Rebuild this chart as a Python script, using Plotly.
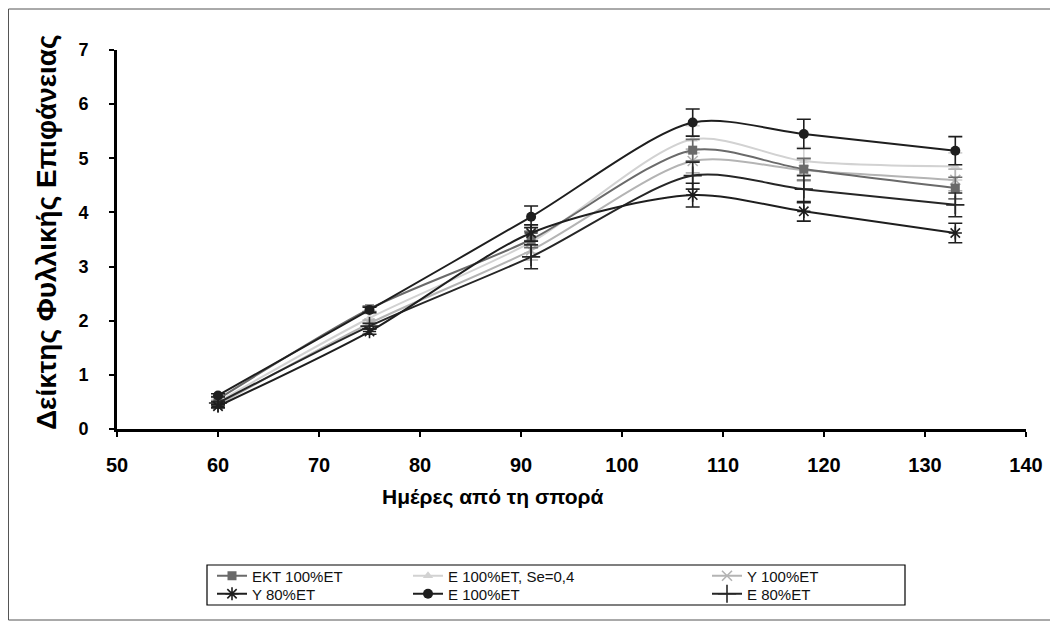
import plotly.graph_objects as go

days = [60, 75, 91, 107, 118, 133]

ekt_100 = [0.55, 2.22, 3.50, 5.15, 4.80, 4.45]
ekt_100_err = [0.05, 0.05, 0.15, 0.20, 0.20, 0.20]

e_100_se = [0.50, 2.05, 3.45, 5.35, 4.95, 4.85]
e_100_se_err = [0.05, 0.08, 0.20, 0.25, 0.25, 0.25]

y_100 = [0.45, 1.95, 3.30, 4.95, 4.78, 4.60]
y_100_err = [0.04, 0.06, 0.18, 0.22, 0.20, 0.20]

y_80 = [0.42, 1.80, 3.62, 4.32, 4.02, 3.62]
y_80_err = [0.03, 0.05, 0.15, 0.22, 0.18, 0.18]

e_100 = [0.62, 2.20, 3.92, 5.66, 5.45, 5.14]
e_100_err = [0.03, 0.05, 0.20, 0.25, 0.27, 0.26]

e_80 = [0.48, 1.90, 3.18, 4.68, 4.43, 4.14]
e_80_err = [0.03, 0.05, 0.22, 0.25, 0.25, 0.22]

x_ticks = [50, 60, 70, 80, 90, 100, 110, 120, 130, 140]
y_ticks = [0, 1, 2, 3, 4, 5, 6, 7]

FONT = "Liberation Sans, Arial, sans-serif"

# the page body adds an 8px margin, so the figure is 8px smaller and shifted
OFF = 8
W, H = 1058 - OFF, 626 - OFF
PL, PT, PW, PH = 117, 50, 909, 379          # plot area in window pixels
L, T = PL - OFF, PT - OFF
R, B = W - L - PW, H - T - PH


def px(xp):
    return (xp - PL) / PW


def py(yp):
    return (PT + PH - yp) / PH


# name, values, errors, symbol, size, color, legend id, legend text x, legend row y
series = [
    ("E 100%ET, Se=0,4", e_100_se, e_100_se_err, "triangle-up", 9, "#d2d2d2", "legend2", 448, 576),
    ("Y 100%ET", y_100, y_100_err, "x-thin-open", 10, "#b4b4b4", "legend3", 747, 576),
    ("EKT 100%ET", ekt_100, ekt_100_err, "square", 9, "#6a6a6a", "legend", 252, 576),
    ("E 80%ET", e_80, e_80_err, "cross-thin-open", 13, "#262626", "legend6", 747, 594),
    ("Y 80%ET", y_80, y_80_err, "asterisk-open", 11, "#1e1e1e", "legend4", 252, 594),
    ("E 100%ET", e_100, e_100_err, "circle", 10, "#1e1e1e", "legend5", 448, 594),
]

fig = go.Figure()
legends = {}
for name, vals, errs, sym, size, col, leg, tx, ty in series:
    open_sym = sym.endswith("open")
    fig.add_trace(go.Scatter(
        x=days, y=vals, name=name, mode="lines+markers",
        line=dict(color=col, width=2, shape="spline", smoothing=0.8),
        marker=dict(symbol=sym, size=size, color=col,
                    line=dict(color=col, width=1.6 if open_sym else 0)),
        error_y=dict(type="data", array=errs, visible=True, color=col,
                     thickness=1.6, width=7),
        legend=leg,
    ))
    legends[leg] = dict(
        x=px(tx - 40), y=py(ty), xanchor="left", yanchor="middle",
        orientation="v", font=dict(family=FONT, size=15, color="#111"),
        bgcolor="rgba(0,0,0,0)", borderwidth=0, itemwidth=30,
    )

fig.update_layout(
    width=W, height=H,
    margin=dict(l=L, r=R, t=T, b=B, pad=0),
    paper_bgcolor="white", plot_bgcolor="white",
    showlegend=True,
    **legends,
    xaxis=dict(
        range=[50, 140], tickvals=x_ticks,
        ticktext=["<b>%d</b>" % v for v in x_ticks],
        showgrid=False, zeroline=False, showline=True, linecolor="black",
        linewidth=3, ticks="outside", ticklen=5, tickwidth=2, tickcolor="black",
        tickfont=dict(family=FONT, size=20, color="black"),
        ticklabelstandoff=11,
    ),
    yaxis=dict(
        range=[0, 7], tickvals=y_ticks,
        ticktext=["<b>%d</b>" % v for v in y_ticks],
        showgrid=False, zeroline=False, showline=True, linecolor="black",
        linewidth=3, ticks="outside", ticklen=5, tickwidth=2, tickcolor="black",
        tickfont=dict(family=FONT, size=18, color="black"),
        ticklabelstandoff=17,
    ),
    annotations=[
        dict(text="<b>Ημέρες από τη σπορά</b>", xref="paper", yref="paper",
             x=px(493), y=py(497), xanchor="center", yanchor="middle",
             showarrow=False, font=dict(family=FONT, size=21, color="black")),
        dict(text="<b>Δείκτης Φυλλικής Επιφάνειας</b>", xref="paper", yref="paper",
             x=px(46), y=py(232), xanchor="center", yanchor="middle",
             textangle=-90, showarrow=False,
             font=dict(family=FONT, size=28, color="black")),
    ],
    shapes=[
        dict(type="rect", xref="paper", yref="paper",
             x0=px(8.5), x1=px(1055), y0=py(9), y1=py(620),
             line=dict(color="#555", width=1), layer="below"),
        dict(type="rect", xref="paper", yref="paper",
             x0=px(207), x1=px(905), y0=py(565), y1=py(605),
             line=dict(color="black", width=1.2), layer="below"),
    ],
)

fig.write_html("out.html")
